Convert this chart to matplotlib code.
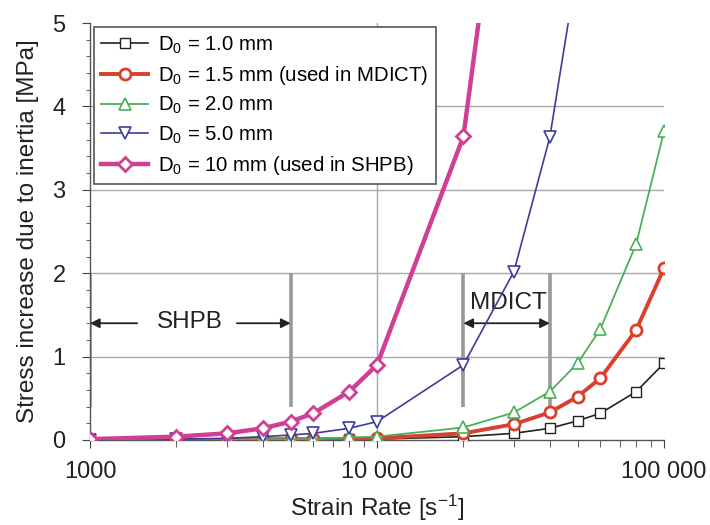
import matplotlib
matplotlib.use("Agg")
import matplotlib.pyplot as plt
from matplotlib.ticker import FixedLocator, LogLocator, NullFormatter, MultipleLocator

plt.rcParams["font.family"] = ["Liberation Sans", "DejaVu Sans"]
plt.rcParams["mathtext.default"] = "regular"

# strain rates where each curve has a marker
strain_rate = [1000, 2000, 3000, 4000, 5000, 6000, 8000, 10000,
               20000, 30000, 40000, 50000, 60000, 80000, 100000]

# stress increase due to inertia [MPa]
stress_d1_0 = [0.00, 0.00, 0.00, 0.00, 0.00, 0.00, 0.01, 0.01,
               0.04, 0.08, 0.14, 0.23, 0.32, 0.58, 0.92]
stress_d1_5 = [0.00, 0.00, 0.00, 0.01, 0.01, 0.01, 0.01, 0.02,
               0.08, 0.19, 0.33, 0.52, 0.74, 1.32, 2.06]
stress_d2_0 = [0.00, 0.00, 0.00, 0.01, 0.01, 0.01, 0.03, 0.04,
               0.15, 0.33, 0.58, 0.92, 1.33, 2.35, 3.70]
stress_d5_0 = [0.00, 0.01, 0.02, 0.04, 0.06, 0.08, 0.14, 0.22,
               0.90, 2.02, 3.63, 5.70]
stress_d10 = [0.01, 0.04, 0.08, 0.14, 0.22, 0.32, 0.58, 0.90,
              3.64, 8.20]

labels = [
    "D$_0$ = 1.0 mm",
    "D$_0$ = 1.5 mm (used in MDICT)",
    "D$_0$ = 2.0 mm",
    "D$_0$ = 5.0 mm",
    "D$_0$ = 10 mm (used in SHPB)",
]

# testing ranges of the two setups
shpb_range = [1000, 5000]
mdict_range = [20000, 40000]
range_bar_y = [0.4, 2.0]

x_ticks = [1000, 10000, 100000]
x_tick_labels = ["1000", "10 000", "100 000"]

fig = plt.figure(figsize=(7.1, 5.25), dpi=100)
ax = fig.add_axes([90 / 710, 85 / 525, 574 / 710, 417 / 525])

styles = [
    dict(color="#222222", lw=1.2, marker="s", ms=7, mew=1.0),
    dict(color="#d9402c", lw=2.8, marker="o", ms=8, mew=2.0),
    dict(color="#4cae5a", lw=1.3, marker="^", ms=9, mew=1.2),
    dict(color="#3c3c9c", lw=1.2, marker="v", ms=9, mew=1.2),
    dict(color="#d13f94", lw=3.2, marker="D", ms=7, mew=2.0),
]
series = [stress_d1_0, stress_d1_5, stress_d2_0, stress_d5_0, stress_d10]

for i, (vals, st, lab) in enumerate(zip(series, styles, labels)):
    ax.plot(strain_rate[:len(vals)], vals, label=lab, mfc="white",
            mec=st["color"], zorder=3 + i, **st)

# grid
for y in [1, 2, 3, 4]:
    ax.axhline(y, color="#a8a8a8", lw=1.0, zorder=0)
ax.axvline(10000, color="#a8a8a8", lw=1.0, zorder=0)

# range bars
ax.vlines(shpb_range + mdict_range, range_bar_y[0], range_bar_y[1],
          color="#999999", lw=2.6, zorder=2)

arrow_kw = dict(arrowstyle="-|>", color="#222222", lw=1.3,
                mutation_scale=14, shrinkA=0, shrinkB=0)
ax.annotate("", xy=(shpb_range[0], 1.40), xytext=(1460, 1.40), arrowprops=arrow_kw)
ax.annotate("", xy=(shpb_range[1], 1.40), xytext=(3250, 1.40), arrowprops=arrow_kw)
ax.text(2230, 1.41, "SHPB", fontsize=17.5, ha="center", va="center", color="#222222")

ax.annotate("", xy=(mdict_range[0], 1.40), xytext=(mdict_range[1], 1.40),
            arrowprops=dict(arrow_kw, arrowstyle="<|-|>"))
ax.text(28800, 1.64, "MDICT", fontsize=17.5, ha="center", va="center", color="#222222")

ax.set_xscale("log")
ax.set_xlim(1000, 100000)
ax.set_ylim(0, 5)
ax.xaxis.set_major_locator(FixedLocator(x_ticks))
ax.set_xticklabels(x_tick_labels)
ax.xaxis.set_minor_locator(LogLocator(base=10, subs=range(2, 10)))
ax.xaxis.set_minor_formatter(NullFormatter())
ax.yaxis.set_major_locator(MultipleLocator(1))
ax.yaxis.set_minor_locator(MultipleLocator(0.2))

for side in ["top", "right"]:
    ax.spines[side].set_visible(False)
for side in ["left", "bottom"]:
    ax.spines[side].set_color("#555555")
    ax.spines[side].set_linewidth(1.0)

ax.tick_params(axis="both", which="both", direction="out", colors="#444444",
               labelcolor="#222222", labelsize=17)
ax.tick_params(axis="x", which="major", length=6, pad=9)
ax.tick_params(axis="x", which="minor", length=5)
ax.tick_params(axis="y", which="major", length=5.5, pad=12)
ax.tick_params(axis="y", which="minor", length=3)

ax.set_xlabel("Strain Rate [s$^{-1}$]", fontsize=17.5, color="#222222", labelpad=7)
ax.set_ylabel("Stress increase due to inertia [MPa]", fontsize=17.5,
              color="#222222", labelpad=10)

leg = ax.legend(loc="upper left", fontsize=14.7, fancybox=False, framealpha=1,
                edgecolor="#555555", handlelength=2.3, handletextpad=0.5,
                borderpad=0.35, labelspacing=0.4, borderaxespad=0.2,
                numpoints=1)
leg.get_frame().set_linewidth(1.2)

fig.savefig("out.png", dpi=100)
